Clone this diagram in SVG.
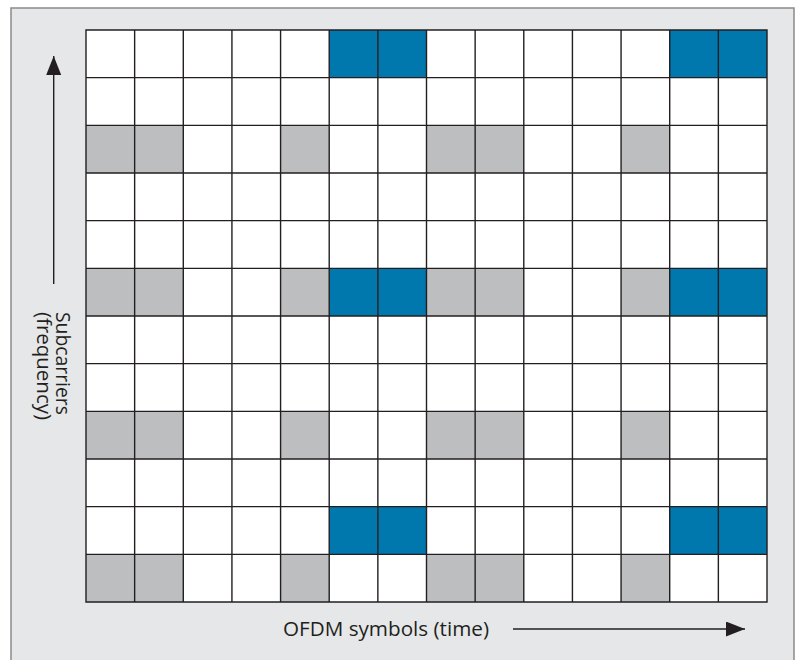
<svg xmlns="http://www.w3.org/2000/svg" width="797" height="660" viewBox="0 0 797 660">
<style>
.c{stroke:#231f20;stroke-width:1.4}
.w{fill:#ffffff}
.g{fill:#bcbec0}
.b{fill:#0077ad}
.t{font-family:"Open Sans","Noto Sans",sans-serif;font-size:19.5px;fill:#231f20}
.ax{stroke:#231f20;stroke-width:1.4;fill:none}
</style>
<defs>
<marker id="ah" markerWidth="20" markerHeight="16" refX="19" refY="7.5" orient="auto" markerUnits="userSpaceOnUse">
<path d="M0,0 L19,7.5 L0,15 Z" fill="#231f20"/>
</marker>
</defs>
<rect x="11" y="8" width="783" height="670" fill="#e6e7e8" stroke="#8a8a8a" stroke-width="1.5"/>
<g id="grid">
<rect id="grid-bg" x="86" y="30" width="681" height="572" class="w"/>
<g id="blue-cells" class="b">
<rect x="329.2" y="30" width="48.64" height="47.67"/>
<rect x="377.9" y="30" width="48.64" height="47.67"/>
<rect x="669.7" y="30" width="48.64" height="47.67"/>
<rect x="718.4" y="30" width="48.64" height="47.67"/>
<rect x="329.2" y="268.3" width="48.64" height="47.67"/>
<rect x="377.9" y="268.3" width="48.64" height="47.67"/>
<rect x="669.7" y="268.3" width="48.64" height="47.67"/>
<rect x="718.4" y="268.3" width="48.64" height="47.67"/>
<rect x="329.2" y="506.7" width="48.64" height="47.67"/>
<rect x="377.9" y="506.7" width="48.64" height="47.67"/>
<rect x="669.7" y="506.7" width="48.64" height="47.67"/>
<rect x="718.4" y="506.7" width="48.64" height="47.67"/>
</g>
<g id="gray-cells" class="g">
<rect x="86" y="125.3" width="48.64" height="47.67"/>
<rect x="134.6" y="125.3" width="48.64" height="47.67"/>
<rect x="280.6" y="125.3" width="48.64" height="47.67"/>
<rect x="426.5" y="125.3" width="48.64" height="47.67"/>
<rect x="475.1" y="125.3" width="48.64" height="47.67"/>
<rect x="621.1" y="125.3" width="48.64" height="47.67"/>
<rect x="86" y="268.3" width="48.64" height="47.67"/>
<rect x="134.6" y="268.3" width="48.64" height="47.67"/>
<rect x="280.6" y="268.3" width="48.64" height="47.67"/>
<rect x="426.5" y="268.3" width="48.64" height="47.67"/>
<rect x="475.1" y="268.3" width="48.64" height="47.67"/>
<rect x="621.1" y="268.3" width="48.64" height="47.67"/>
<rect x="86" y="411.3" width="48.64" height="47.67"/>
<rect x="134.6" y="411.3" width="48.64" height="47.67"/>
<rect x="280.6" y="411.3" width="48.64" height="47.67"/>
<rect x="426.5" y="411.3" width="48.64" height="47.67"/>
<rect x="475.1" y="411.3" width="48.64" height="47.67"/>
<rect x="621.1" y="411.3" width="48.64" height="47.67"/>
<rect x="86" y="554.3" width="48.64" height="47.67"/>
<rect x="134.6" y="554.3" width="48.64" height="47.67"/>
<rect x="280.6" y="554.3" width="48.64" height="47.67"/>
<rect x="426.5" y="554.3" width="48.64" height="47.67"/>
<rect x="475.1" y="554.3" width="48.64" height="47.67"/>
<rect x="621.1" y="554.3" width="48.64" height="47.67"/>
</g>
<path class="c" fill="none" d="M86,30H767V602H86Z
M134.64,30V602 M183.29,30V602 M231.93,30V602 M280.57,30V602 M329.21,30V602 M377.86,30V602 M426.5,30V602 M475.14,30V602 M523.79,30V602 M572.43,30V602 M621.07,30V602 M669.71,30V602 M718.36,30V602
M86,77.67H767 M86,125.33H767 M86,173H767 M86,220.67H767 M86,268.33H767 M86,316H767 M86,363.67H767 M86,411.33H767 M86,459H767 M86,506.67H767 M86,554.33H767"/>
</g>
<g id="connectors">
<line class="ax" x1="53.7" y1="284" x2="53.7" y2="56" marker-end="url(#ah)"/>
<line class="ax" x1="513" y1="629" x2="745" y2="629" marker-end="url(#ah)"/>
</g>
<g id="y-label">
<text class="t" transform="translate(56,312) rotate(90)" textLength="103" lengthAdjust="spacingAndGlyphs">Subcarriers</text>
<text class="t" transform="translate(37,312) rotate(90)" textLength="108" lengthAdjust="spacingAndGlyphs">(frequency)</text>
</g>
<g id="x-label">
<text class="t" x="283" y="636" textLength="206" lengthAdjust="spacingAndGlyphs">OFDM symbols (time)</text>
</g>
</svg>
